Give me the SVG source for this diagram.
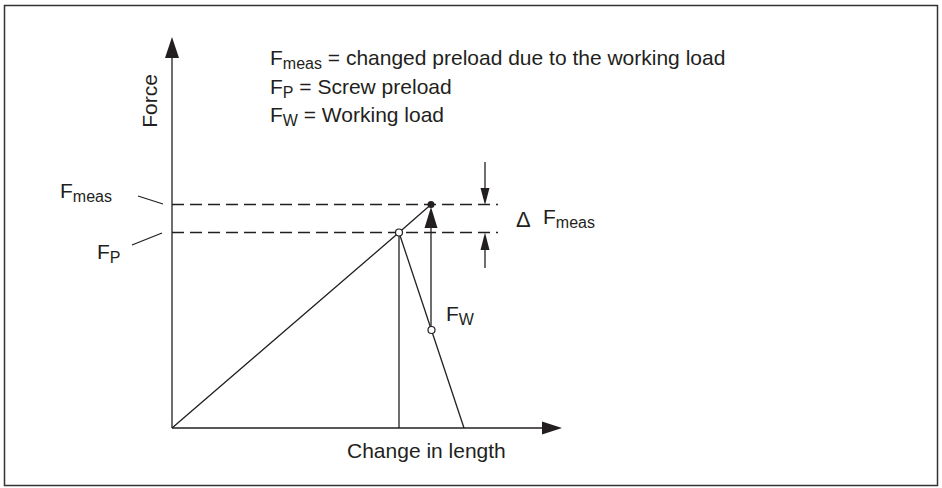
<svg xmlns="http://www.w3.org/2000/svg" width="942" height="488" viewBox="0 0 942 488">
<style>
.ln{stroke:#231f20;stroke-width:1.3;fill:none}
.dash{stroke:#231f20;stroke-width:1.3;fill:none;stroke-dasharray:12 6}
.ah{fill:#231f20;stroke:none}
.t{font-family:"Liberation Sans",Arial,sans-serif;font-size:21px;fill:#231f20}
.s{font-size:16px}
</style>
<rect x="4.5" y="5.5" width="933" height="480" fill="#fff" stroke="#333" stroke-width="1.5"/>
<g id="connectors">
<line class="ln" x1="172" y1="428" x2="172" y2="55"/>
<polygon class="ah" points="172,37 165,58 179,58"/>
<line class="ln" x1="172" y1="428" x2="545" y2="428"/>
<polygon class="ah" points="562,428 542,421.5 542,434.5"/>
<line class="dash" x1="172" y1="204.5" x2="498" y2="204.5"/>
<line class="dash" x1="172" y1="232.5" x2="498" y2="232.5"/>
<polyline class="ln" points="172,428 399,232.5 431,204.5"/>
<line class="ln" x1="399" y1="232.5" x2="399" y2="428"/>
<line class="ln" x1="399" y1="232.5" x2="464" y2="428"/>
<line class="ln" x1="431" y1="330" x2="431" y2="225"/>
<polygon class="ah" points="431,207 424.5,228 437.5,228"/>
<line class="ln" x1="485" y1="162" x2="485" y2="190"/>
<polygon class="ah" points="485,205 480.5,188 489.5,188"/>
<line class="ln" x1="485" y1="268" x2="485" y2="248"/>
<polygon class="ah" points="485,232.5 480.5,250 489.5,250"/>
<line class="ln" x1="138" y1="196" x2="163" y2="204"/>
<line class="ln" x1="132" y1="245" x2="162" y2="233"/>
</g>
<g id="point-meas"><circle cx="431" cy="204.5" r="3.5" fill="#231f20"/></g>
<g id="point-p"><circle cx="399" cy="232.5" r="3.5" fill="#fff" stroke="#231f20" stroke-width="1.2"/></g>
<g id="point-w"><circle cx="431.5" cy="330" r="3.5" fill="#fff" stroke="#231f20" stroke-width="1.2"/></g>
<g id="legend">
<text class="t" x="270" y="65">F<tspan class="s" dy="4">meas</tspan><tspan dy="-4"> = changed preload due to the working load</tspan></text>
<text class="t" x="270" y="94">F<tspan class="s" dy="4">P</tspan><tspan dy="-4"> = Screw preload</tspan></text>
<text class="t" x="270" y="122">F<tspan class="s" dy="4">W</tspan><tspan dy="-4"> = Working load</tspan></text>
</g>
<g id="axis-labels">
<text class="t" transform="translate(157,101) rotate(-90)" text-anchor="middle">Force</text>
<text class="t" x="347" y="458">Change in length</text>
</g>
<g id="labels">
<text class="t" x="60" y="198">F<tspan class="s" dy="4">meas</tspan></text>
<text class="t" x="97" y="259">F<tspan class="s" dy="4">P</tspan></text>
<text class="t" x="446" y="321">F<tspan class="s" dy="4">W</tspan></text>
<text class="t" x="516" y="227" style="font-size:22px">Δ</text>
<text class="t" x="543" y="224">F<tspan class="s" dy="4">meas</tspan></text>
</g>
</svg>
